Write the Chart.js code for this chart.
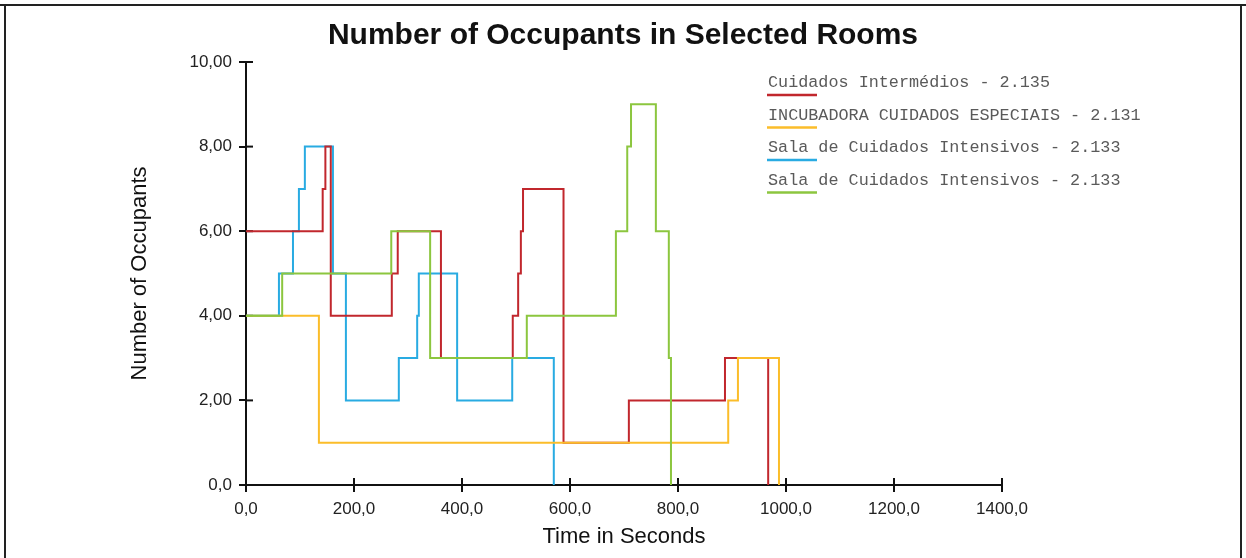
<!DOCTYPE html>
<html>
<head>
<meta charset="utf-8">
<script src="https://cdn.jsdelivr.net/npm/chart.js@4"></script>
<style>
  body { margin: 0; background: #fff; }
  #wrap { width: 1246px; height: 558px; position: relative; }
</style>
</head>
<body>
<div id="wrap"><canvas id="occupantsChart"></canvas></div>
<script>
// room names as shown in the legend
const roomLabels = [
  "Cuidados Intermédios - 2.135",
  "INCUBADORA CUIDADOS ESPECIAIS - 2.131",
  "Sala de Cuidados Intensivos - 2.133",
  "Sala de Cuidados Intensivos - 2.133",
];
const roomColors = ["#c1272d", "#fbbd2a", "#29abe2", "#8cc63f"];

// times (s) where the occupant count changes, and the new count
const intermediosTime = [0, 142, 147, 157, 270, 281, 361, 494, 504, 509, 513, 588, 709, 887, 967];
const intermediosCount = [6, 7, 8, 4, 5, 6, 3, 4, 5, 6, 7, 1, 2, 3, 0];

const incubadoraTime = [0, 135, 893, 911, 987];
const incubadoraCount = [4, 1, 2, 3, 0];

const intensivosATime = [0, 61, 87, 98, 109, 161, 185, 283, 317, 320, 391, 493, 570];
const intensivosACount = [4, 5, 6, 7, 8, 5, 2, 3, 4, 5, 2, 3, 0];

const intensivosBTime = [0, 67, 269, 341, 520, 685, 706, 713, 759, 783, 787];
const intensivosBCount = [4, 5, 6, 3, 4, 6, 8, 9, 6, 3, 0];

const xTickLabels = ["0,0", "200,0", "400,0", "600,0", "800,0", "1000,0", "1200,0", "1400,0"];
const yTickLabels = ["0,0", "2,00", "4,00", "6,00", "8,00", "10,00"];

const toPoints = (times, counts) => times.map((t, i) => ({ x: t, y: counts[i] }));

const seriesData = [
  toPoints(intermediosTime, intermediosCount),
  toPoints(incubadoraTime, incubadoraCount),
  toPoints(intensivosATime, intensivosACount),
  toPoints(intensivosBTime, intensivosBCount),
];
// green on top, then yellow, red, blue
const drawOrder = [2, 1, 3, 0];

const sansFont = '"Liberation Sans", Arial, sans-serif';

// page frame, inner half of the tick marks and the underlined legend
const decorPlugin = {
  id: "decor",
  beforeDatasetsDraw(chart) {
    const ctx = chart.ctx;
    const { x, y } = chart.scales;
    ctx.save();
    ctx.strokeStyle = "#111";
    ctx.lineWidth = 2;
    y.ticks.forEach((t) => {
      const py = y.getPixelForValue(t.value);
      ctx.beginPath();
      ctx.moveTo(y.right, py);
      ctx.lineTo(y.right + 7, py);
      ctx.stroke();
    });
    x.ticks.forEach((t) => {
      const px = x.getPixelForValue(t.value);
      ctx.beginPath();
      ctx.moveTo(px, x.top);
      ctx.lineTo(px, x.top - 7);
      ctx.stroke();
    });
    ctx.restore();
  },
  afterDraw(chart) {
    const ctx = chart.ctx;
    const w = chart.width, h = chart.height;
    ctx.save();
    ctx.strokeStyle = "#222";
    ctx.lineWidth = 2;
    ctx.beginPath();
    ctx.moveTo(0, 5);
    ctx.lineTo(w, 5);
    ctx.moveTo(5, 5);
    ctx.lineTo(5, h);
    ctx.moveTo(w - 5, 5);
    ctx.lineTo(w - 5, h);
    ctx.stroke();

    ctx.font = '16.8px "Liberation Mono", "Courier New", monospace';
    ctx.textBaseline = "middle";
    ctx.textAlign = "left";
    roomLabels.forEach((label, i) => {
      const rowY = 83 + i * 32.5;
      ctx.fillStyle = "#5a5a5a";
      ctx.fillText(label, 768, rowY);
      ctx.strokeStyle = roomColors[i];
      ctx.lineWidth = 2.5;
      ctx.beginPath();
      ctx.moveTo(767, rowY + 12);
      ctx.lineTo(817, rowY + 12);
      ctx.stroke();
    });
    ctx.restore();
  },
};

const ctx = document.getElementById("occupantsChart").getContext("2d");
new Chart(ctx, {
  type: "line",
  data: {
    datasets: seriesData.map((pts, i) => ({
      label: roomLabels[i],
      data: pts,
      borderColor: roomColors[i],
      borderWidth: 2,
      stepped: true,
      pointRadius: 0,
      fill: false,
      order: drawOrder[i],
      yAxisID: "y",
    })),
  },
  options: {
    responsive: true,
    maintainAspectRatio: false,
    animation: false,
    devicePixelRatio: 1,
    layout: { padding: 0 },
    plugins: {
      legend: { display: false },
      tooltip: { enabled: false },
      title: {
        display: true,
        text: "Number of Occupants in Selected Rooms",
        color: "#111",
        font: { family: sansFont, size: 30, weight: "bold" },
        padding: { top: 18, bottom: 8 },
      },
    },
    scales: {
      x: {
        type: "linear",
        min: 0,
        max: 1400,
        ticks: {
          stepSize: 200,
          autoSkip: false,
          maxRotation: 0,
          padding: 7,
          color: "#222",
          font: { family: sansFont, size: 17 },
          callback: (v) => xTickLabels[Math.round(v / 200)],
        },
        grid: { drawOnChartArea: false, tickLength: 7, color: "#111", lineWidth: 2 },
        border: { color: "#111", width: 2 },
        title: {
          display: true,
          text: "Time in Seconds",
          color: "#111",
          font: { family: sansFont, size: 22 },
          padding: { top: 0, bottom: 8 },
        },
        afterFit: (s) => { s.height = 73; },
      },
      y: {
        type: "linear",
        position: "left",
        min: 0,
        max: 10,
        ticks: {
          stepSize: 2,
          padding: 7,
          color: "#222",
          font: { family: sansFont, size: 17 },
          callback: (v) => yTickLabels[Math.round(v / 2)],
        },
        grid: { drawOnChartArea: false, tickLength: 7, color: "#111", lineWidth: 2 },
        border: { color: "#111", width: 2 },
        title: {
          display: true,
          text: "Number of Occupants",
          color: "#111",
          font: { family: sansFont, size: 22 },
          padding: { top: 127, bottom: 0 },
        },
        afterFit: (s) => { s.width = 246; },
      },
      // empty right box that keeps the plot area where it is in the original
      yRight: {
        type: "linear",
        position: "right",
        ticks: { display: false },
        grid: { display: false, drawTicks: false },
        border: { display: false },
        afterFit: (s) => { s.width = 244; },
      },
    },
  },
  plugins: [decorPlugin],
});
</script>
</body>
</html>
